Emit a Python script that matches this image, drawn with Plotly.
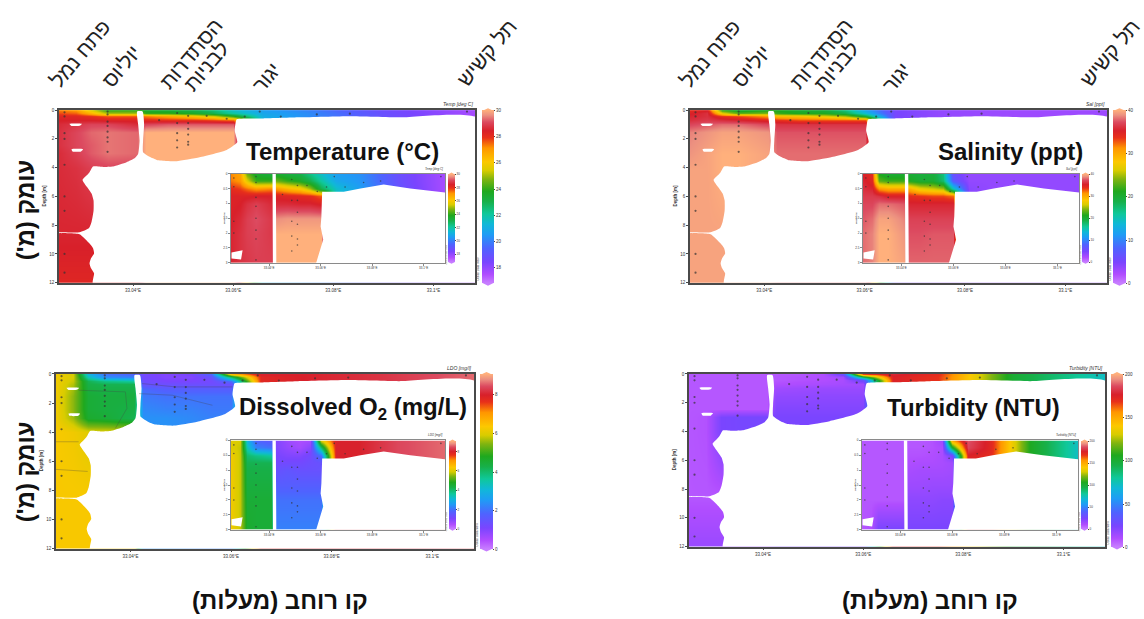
import plotly.graph_objects as go

W, H = 1144, 619
FONT = "Liberation Sans"

# ---------- shared grids ----------
lons = [33.0252, 33.0285, 33.0315, 33.035, 33.0408, 33.0425, 33.047, 33.052, 33.056, 33.06, 33.066, 33.075, 33.09, 33.1083]
main_depths = [0, 0.2, 0.45, 0.7, 1, 1.5, 2.4, 3, 4, 8.5, 12]
inset_depths = [0, 0.25, 0.5, 0.75, 1, 1.5, 2, 3]
lon_ticks = [33.04, 33.06, 33.08, 33.1]
lon_labels = ["33.04°E", "33.06°E", "33.08°E", "33.1°E"]

# ---------- sections (rows = depth, columns = longitude) ----------
temp_main = [
    [27.3, 27.0, 25.5, 24.0, 24.0, 23.5, 23.3, 23.0, 22.5, 21.5, 20.6, 20.0, 18.7, 17.6],
    [27.7, 27.5, 26.5, 25.0, 25.0, 24.0, 24.0, 23.6, 23.0, 22.0, 20.8, 20.2, 18.8, 17.6],
    [28.2, 28.2, 28.0, 27.6, 27.6, 27.3, 26.8, 26.2, 25.5, 24.0, 21.0, 20.2, 18.8, 17.6],
    [28.4, 28.4, 28.4, 28.3, 28.3, 28.1, 28.0, 28.0, 27.8, 27.5, 21.0, 20.2, 18.8, 17.6],
    [28.6, 28.8, 29.0, 29.0, 28.6, 29.0, 29.2, 29.2, 29.2, 29.2, 21.0, 20.2, 18.8, 17.6],
    [28.7, 29.0, 29.3, 29.4, 29.3, 30.0, 30.0, 30.0, 30.0, 30.0, 21.0, 20.2, 18.8, 17.6],
    [28.7, 29.0, 29.2, 29.4, 29.3, 30.0, 30.0, 30.0, 30.0, 30.0, 21.0, 20.2, 18.8, 17.6],
    [28.6, 28.9, 29.2, 29.4, 29.3, 30.0, 30.0, 30.0, 30.0, 30.0, 21.0, 20.2, 18.8, 17.6],
    [28.6, 28.7, 28.9, 29.0, 29.0, 30.0, 30.0, 30.0, 30.0, 30.0, 21.0, 20.2, 18.8, 17.6],
    [28.5, 28.5, 28.5, 28.5, 28.5, 30.0, 30.0, 30.0, 30.0, 30.0, 21.0, 20.2, 18.8, 17.6],
    [28.2, 28.2, 28.2, 28.2, 28.2, 30.0, 30.0, 30.0, 30.0, 30.0, 21.0, 20.2, 18.8, 17.6],
]
temp_inset = [
    [27.2, 26.8, 24.5, 23.5, 23.2, 23.5, 23.2, 23.0, 22.3, 21.5, 20.6, 20.3, 18.8, 17.6],
    [27.3, 27.0, 25.5, 24.0, 24.0, 24.5, 24.0, 23.6, 23.0, 22.0, 20.8, 20.4, 18.8, 17.6],
    [28.0, 27.8, 27.4, 27.0, 27.2, 27.0, 26.5, 26.0, 25.0, 23.0, 21.5, 20.6, 18.9, 17.6],
    [28.3, 28.3, 28.3, 28.4, 28.4, 28.3, 28.2, 28.1, 28.0, 27.5, 21.5, 20.6, 18.9, 17.6],
    [28.3, 28.4, 28.7, 28.9, 28.6, 28.6, 28.6, 28.5, 28.5, 28.3, 21.5, 20.6, 18.9, 17.6],
    [28.4, 28.6, 28.9, 29.1, 28.8, 29.6, 29.7, 29.7, 29.7, 29.7, 21.5, 20.6, 18.9, 17.6],
    [28.5, 28.7, 28.9, 29.0, 28.8, 30.0, 30.0, 30.0, 30.0, 30.0, 21.5, 20.6, 18.9, 17.6],
    [28.5, 28.7, 28.8, 28.9, 28.9, 30.0, 30.0, 30.0, 30.0, 30.0, 21.5, 20.6, 18.9, 17.6],
]
sal_main = [
    [34.0, 35.0, 22.0, 20.0, 21.0, 21.0, 20.0, 19.5, 17.0, 12.0, 5.0, 3.5, 3.0, 3.0],
    [35.0, 36.0, 27.0, 23.0, 24.0, 22.0, 21.0, 21.0, 19.0, 14.0, 5.0, 3.5, 3.0, 3.0],
    [35.5, 36.0, 34.0, 33.0, 31.0, 29.0, 28.5, 27.0, 25.0, 20.0, 5.0, 3.5, 3.0, 3.0],
    [36.0, 36.5, 36.0, 35.5, 34.5, 34.0, 33.0, 33.0, 33.0, 33.0, 5.0, 3.5, 3.0, 3.0],
    [37.0, 37.5, 38.0, 38.0, 37.0, 36.2, 36.2, 36.2, 36.2, 36.2, 5.0, 3.5, 3.0, 3.0],
    [38.5, 39.0, 39.5, 39.5, 39.0, 37.4, 37.4, 37.4, 37.4, 37.4, 5.0, 3.5, 3.0, 3.0],
    [38.8, 39.3, 39.8, 39.8, 39.3, 37.8, 37.8, 37.8, 37.8, 37.8, 5.0, 3.5, 3.0, 3.0],
    [39.0, 39.5, 40.0, 40.0, 39.5, 38.0, 38.0, 38.0, 38.0, 38.0, 5.0, 3.5, 3.0, 3.0],
    [39.5, 39.5, 40.0, 40.0, 39.5, 38.0, 38.0, 38.0, 38.0, 38.0, 5.0, 3.5, 3.0, 3.0],
    [39.5, 39.5, 39.5, 39.5, 39.5, 38.0, 38.0, 38.0, 38.0, 38.0, 5.0, 3.5, 3.0, 3.0],
    [39.5, 39.5, 39.5, 39.5, 39.5, 38.0, 38.0, 38.0, 38.0, 38.0, 5.0, 3.5, 3.0, 3.0],
]
sal_inset = [
    [35.0, 34.0, 21.0, 20.0, 20.0, 20.0, 19.5, 19.5, 17.0, 6.0, 3.5, 3.5, 3.5, 3.5],
    [35.5, 34.5, 23.0, 22.0, 22.0, 21.0, 20.0, 20.0, 17.5, 7.0, 3.5, 3.5, 3.5, 3.5],
    [36.0, 35.5, 31.0, 30.0, 30.0, 30.0, 27.0, 26.0, 25.0, 15.0, 4.0, 3.5, 3.5, 3.5],
    [36.5, 36.5, 36.0, 35.0, 35.0, 34.0, 33.5, 33.0, 33.0, 32.0, 4.0, 3.5, 3.5, 3.5],
    [37.0, 37.0, 38.0, 38.0, 37.5, 35.5, 35.5, 35.5, 35.5, 35.5, 4.0, 3.5, 3.5, 3.5],
    [37.5, 38.0, 39.5, 39.5, 38.5, 36.8, 36.8, 36.8, 36.8, 36.8, 4.0, 3.5, 3.5, 3.5],
    [38.0, 38.5, 40.0, 40.0, 39.0, 37.3, 37.3, 37.5, 37.5, 37.5, 4.0, 3.5, 3.5, 3.5],
    [38.0, 38.5, 40.0, 40.0, 39.5, 37.8, 37.8, 37.8, 37.8, 37.8, 4.0, 3.5, 3.5, 3.5],
]
do_main = [
    [6.2, 5.9, 3.0, 2.0, 1.8, 1.2, 1.0, 1.1, 1.8, 6.5, 8.0, 8.0, 8.2, 8.6],
    [6.2, 5.9, 3.4, 2.4, 2.2, 1.2, 1.0, 1.0, 1.4, 4.0, 7.8, 8.0, 8.2, 8.6],
    [6.2, 5.8, 4.2, 3.8, 3.6, 1.3, 1.1, 1.1, 1.2, 2.0, 7.8, 8.0, 8.2, 8.6],
    [6.2, 5.7, 4.3, 4.2, 4.2, 1.4, 1.3, 1.3, 1.3, 1.3, 7.8, 8.0, 8.2, 8.6],
    [6.2, 5.6, 4.4, 4.3, 4.3, 1.9, 1.7, 1.7, 1.7, 1.7, 7.8, 8.0, 8.2, 8.6],
    [6.2, 5.5, 4.5, 4.4, 4.4, 2.1, 2.0, 2.0, 2.0, 2.0, 7.8, 8.0, 8.2, 8.6],
    [6.2, 5.5, 4.5, 4.4, 4.3, 2.3, 2.2, 2.2, 2.1, 2.1, 7.8, 8.0, 8.2, 8.6],
    [6.2, 5.6, 4.6, 4.5, 4.2, 2.4, 2.4, 2.3, 2.2, 2.2, 7.8, 8.0, 8.2, 8.6],
    [6.3, 6.2, 6.0, 6.0, 6.0, 2.4, 2.4, 2.3, 2.2, 2.2, 7.8, 8.0, 8.2, 8.6],
    [6.3, 6.3, 6.3, 6.3, 6.3, 2.4, 2.4, 2.3, 2.2, 2.2, 7.8, 8.0, 8.2, 8.6],
    [6.3, 6.3, 6.3, 6.3, 6.3, 2.4, 2.4, 2.3, 2.2, 2.2, 7.8, 8.0, 8.2, 8.6],
]
do_inset = [
    [6.0, 5.9, 3.0, 1.8, 1.6, 1.0, 0.7, 0.5, 0.6, 6.0, 8.0, 8.0, 8.4, 8.6],
    [6.0, 5.8, 3.4, 2.2, 2.0, 1.0, 0.8, 0.6, 0.9, 4.0, 8.0, 8.0, 8.4, 8.6],
    [6.2, 5.8, 4.0, 3.8, 3.6, 1.1, 1.0, 1.0, 1.2, 2.0, 8.0, 8.0, 8.4, 8.6],
    [6.2, 5.8, 4.2, 4.2, 4.2, 1.2, 1.2, 1.2, 1.3, 1.4, 8.0, 8.0, 8.4, 8.6],
    [6.2, 5.8, 4.3, 4.3, 4.3, 1.4, 1.5, 1.4, 1.4, 1.4, 8.0, 8.0, 8.4, 8.6],
    [6.2, 5.8, 4.4, 4.4, 4.4, 1.7, 1.7, 1.7, 1.7, 1.7, 8.0, 8.0, 8.4, 8.6],
    [6.2, 5.8, 4.5, 4.5, 4.5, 2.0, 2.0, 2.0, 2.0, 2.0, 8.0, 8.0, 8.4, 8.6],
    [6.2, 5.8, 4.6, 4.5, 4.5, 2.2, 2.2, 2.2, 2.2, 2.2, 8.0, 8.0, 8.4, 8.6],
]
turb_main = [
    [8, 8, 8, 8, 8, 8, 8, 10, 30, 165, 178, 170, 100, 72],
    [8, 8, 8, 8, 8, 8, 9, 10, 14, 90, 175, 168, 100, 72],
    [8, 8, 8, 8, 8, 8, 9, 10, 12, 30, 175, 168, 100, 72],
    [8, 8, 8, 8, 8, 10, 11, 12, 13, 14, 175, 168, 100, 72],
    [8, 8, 8, 8, 8, 14, 15, 16, 16, 16, 175, 168, 100, 72],
    [8, 8, 8, 8, 8, 18, 18, 19, 19, 19, 175, 168, 100, 72],
    [8, 8, 8, 8, 8, 22, 22, 22, 22, 22, 175, 168, 100, 72],
    [8, 9, 24, 25, 25, 24, 24, 24, 24, 24, 175, 168, 100, 72],
    [8, 9, 24, 25, 25, 24, 24, 24, 24, 24, 175, 168, 100, 72],
    [8, 8, 8, 8, 8, 24, 24, 24, 24, 24, 175, 168, 100, 72],
    [16, 16, 16, 16, 16, 24, 24, 24, 24, 24, 175, 168, 100, 72],
]
turb_inset = [
    [8, 8, 8, 8, 8, 8, 8, 9, 15, 150, 187, 172, 105, 72],
    [8, 8, 8, 8, 8, 8, 8, 9, 11, 100, 185, 172, 105, 72],
    [8, 8, 8, 8, 8, 9, 9, 10, 12, 25, 175, 170, 105, 72],
    [8, 8, 8, 8, 8, 10, 11, 11, 12, 14, 175, 170, 105, 72],
    [8, 8, 8, 8, 8, 12, 13, 13, 13, 14, 175, 170, 105, 72],
    [8, 8, 8, 8, 8, 15, 15, 16, 16, 16, 175, 170, 105, 72],
    [8, 8, 8, 8, 8, 19, 19, 19, 20, 20, 175, 170, 105, 72],
    [8, 10, 24, 24, 24, 24, 24, 24, 24, 24, 175, 170, 105, 72],
]

# ---------- sampling stations ----------
station_lons = [33.0263] * 9 + [33.0349] * 8 + [33.0488] * 5 + [33.051] * 6 + [
    33.0452, 33.0547, 33.0587, 33.0623, 33.0653, 33.0695, 33.0767, 33.0833, 33.1067]
station_depths = [0.15, 0.44, 1.6, 2, 3.8, 6, 7, 10, 11.3,
                  0.1, 0.3, 0.8, 1.1, 1.5, 1.9, 2.2, 2.9,
                  0.2, 0.9, 1.6, 2.1, 2.6,
                  0.4, 0.9, 1.3, 1.7, 2.2, 2.4,
                  0.7, 0.4, 0.6, 0.45, 0.1, 0.45, 0.3, 0.25, 0.1]

# ---------- thin isolines on the dissolved oxygen section ----------
do_iso_lon = [33.0248, 33.0297, None, 33.0248, 33.0315, None,
              33.0297, 33.039, 33.0393, 33.037, None,
              33.0423, 33.049, 33.0603, None, 33.0417, 33.0483, 33.0563]
do_iso_depth = [4.66, 4.66, None, 6.55, 6.7, None,
                1.12, 1.23, 2.37, 3.74, None,
                0.66, 0.89, 0.89, None, 1.35, 1.46, 2.15]

# ---------- outline of the gridded section (blank areas) ----------
main_blank_lon = [33.032, 33.0322, 33.0316, 33.0313, 33.0316, 33.0322, 33.032, 33.0313, 33.0293, 33.0252, 33.0252, 33.0293, 33.0312, 33.0317,
                  33.0321, 33.0321, 33.0317, 33.0308, 33.0299, 33.0307, 33.0313, 33.032, 33.034, 33.036, 33.0387, 33.0403, 33.041,
                  33.0413, 33.041, 33.0408, 33.0419, 33.0422, 33.042, 33.042, 33.0433, 33.0447, 33.0467, 33.0487, 33.0533, 33.0587,
                  33.0608, 33.0603, 33.0605, 33.0607, 33.066, 33.0733, 33.0833,
                  33.0933, 33.109, 33.109, 33.032, None,
                  33.0273, 33.0298, 33.0294, 33.0276, 33.0273, None,
                  33.0277, 33.03, 33.0296, 33.0279, 33.0277]
main_blank_depth = [12.1, 11.35, 11.0, 10.66, 10.3, 9.97, 9.6, 9.28, 8.63, 8.54, 8.5, 8.5, 8.2, 7.78,
                    7.0, 6.28, 5.8, 5.35, 4.85, 4.55, 4.32, 3.92, 3.95, 3.92, 3.62, 3.35, 3.05,
                    2.12, 0.97, 0.09, 0.09, 0.97, 2.12, 2.93, 3.25, 3.46, 3.53, 3.55, 3.28, 2.77,
                    2.24, 1.43, 0.85, 0.64, 0.58, 0.5, 0.42,
                    0.5, 0.58, 12.1, 12.1, None,
                    0.95, 0.95, 1.08, 1.08, 0.95, None,
                    2.72, 2.72, 2.88, 2.88, 2.72]
inset_blank_lon = [33.0413, 33.0426, 33.0428, 33.0415, 33.0413, None,
                   33.0581, 33.061, 33.06, 33.0603, 33.0606, 33.0652, 33.069, 33.0755, 33.0845, 33.0948, 33.109, 33.109,
                   33.0581, None,
                   33.0254, 33.0297, 33.0291, 33.0254, 33.0254]
inset_blank_depth = [-0.05, -0.05, 3.05, 3.05, -0.05, None,
                     3.05, 2.22, 1.78, 1.44, 0.61, 0.61, 0.61, 0.5, 0.37, 0.5, 0.64, 3.05,
                     3.05, None,
                     2.65, 2.58, 2.89, 2.85, 2.65]

# ---------- panel definitions (pixel boxes: left, right, top, bottom) ----------
rainbow = [
    [0.00, "#c77dff"], [0.05, "#b04dff"], [0.12, "#7a45ff"], [0.20, "#4f63ff"], [0.28, "#1f9cf5"],
    [0.34, "#10b8d8"], [0.40, "#0fc89a"], [0.47, "#17b04a"], [0.53, "#1fa81e"], [0.60, "#80b410"],
    [0.65, "#d8cc00"], [0.70, "#fcc800"], [0.78, "#ff9600"], [0.84, "#e8301a"], [0.88, "#d8202a"],
    [0.93, "#dc4a60"], [0.97, "#ec9080"], [1.00, "#ffb07c"],
]
panels = [
    dict(main=temp_main, inset=temp_inset, zmin=16.8, zmax=30, ticks=[18, 20, 22, 24, 26, 28, 30],
         box=(59, 475, 109, 283), ibox=(231, 445, 173, 263), bar=(482, 494, 110, 283), ibar=(448, 455, 174, 262),
         name="Temp [deg C]", title="Temperature (°C)", tx=342, ty=151, itick=[18, 20, 22, 24, 26, 28, 30]),
    dict(main=sal_main, inset=sal_inset, zmin=0, zmax=40, ticks=[0, 10, 20, 30, 40],
         box=(690, 1107, 109, 283), ibox=(863, 1079, 173, 263), bar=(1113, 1126, 110, 283), ibar=(1082, 1089, 174, 262),
         name="Sal [ppt]", title="Salinity (ppt)", tx=1010, ty=151, itick=[0, 10, 20, 30, 40]),
    dict(main=do_main, inset=do_inset, zmin=0, zmax=9.07, ticks=[0, 2, 4, 6, 8],
         box=(56, 474, 375, 551), ibox=(231, 445, 442, 532), bar=(480, 493, 376, 551), ibar=(449, 456, 443, 531),
         name="LDO [mg/l]", title="Dissolved O<sub>2</sub> (mg/L)", tx=353, ty=410, itick=[0, 2, 4, 6, 8],
         iso=(do_iso_lon, do_iso_depth)),
    dict(main=turb_main, inset=turb_inset, zmin=0, zmax=200, ticks=[0, 50, 100, 150, 200],
         box=(689, 1105, 375, 549), ibox=(862, 1078, 442, 532), bar=(1111, 1123, 376, 549), ibar=(1081, 1088, 443, 531),
         name="Turbidity [NTU]", title="Turbidity (NTU)", tx=973, ty=409, itick=[0, 50, 100, 150, 200]),
]

site_names = ["פתח נמל", "יוליוס", "הסתדרות", "לבניות", "יגור", "תל קשיש"]
site_px_left = [(80, 52), (121, 65), (191, 52), (206, 65), (266, 76), (487, 51)]
site_px_right = [(710, 52), (751, 65), (821, 52), (836, 65), (896, 76), (1110, 51)]
depth_title = "עומק (מ')"
lat_title = "קו רוחב (מעלות)"


def fx(px):
    return px / W


def fy(py):
    return 1 - py / H


def note(px, py, text, size, color="#222", angle=0, xanchor="center", yanchor="middle"):
    return dict(xref="paper", yref="paper", x=fx(px), y=fy(py), text=text, textangle=angle, showarrow=False,
                xanchor=xanchor, yanchor=yanchor, font=dict(size=size, color=color, family=FONT))


fig = go.Figure()
layout = dict(width=W, height=H, margin=dict(l=0, r=0, t=0, b=0), paper_bgcolor="white", plot_bgcolor="white",
              showlegend=False, font=dict(family=FONT, color="#222"))
annotations, shapes = [], []
axis_no = 0


def add_section(z, depths, blank_lon, blank_depth, box, bar, zmin, zmax, ticks, is_inset, name, iso=None):
    global axis_no
    axis_no += 1
    xa, ya = f"xaxis{axis_no}", f"yaxis{axis_no}"
    xr, yr = f"x{axis_no}", f"y{axis_no}"
    left, right, top, bottom = box
    bl, br, bt, bb = bar
    line = "#8a8a8a" if is_inset else "#4a4a4a"
    tick_size = 3 if is_inset else 4.5
    layout[xa] = dict(domain=[fx(left), fx(right)], range=[lons[0], lons[-1]], anchor=yr,
                      tickvals=lon_ticks, ticktext=lon_labels, ticks="outside", ticklen=2, tickcolor=line,
                      tickfont=dict(size=tick_size, color="#333"), showgrid=False, zeroline=False, mirror=True,
                      showline=True, linecolor=line, linewidth=1 if is_inset else 1.5, layer="above traces")
    ymax = depths[-1]
    yticks = [0, 0.5, 1, 1.5, 2, 2.5, 3] if is_inset else [0, 2, 4, 6, 8, 10, 12]
    layout[ya] = dict(domain=[fy(bottom), fy(top)], range=[ymax, 0], anchor=xr,
                      tickvals=yticks, ticks="outside", ticklen=2, tickcolor=line,
                      tickfont=dict(size=tick_size, color="#333"), showgrid=False, zeroline=False, mirror=True,
                      showline=True, linecolor=line, linewidth=1 if is_inset else 1.5, layer="above traces")
    fig.add_trace(go.Heatmap(
        x=lons, y=depths, z=z, zmin=zmin, zmax=zmax, zsmooth="best", colorscale=rainbow, hoverinfo="skip",
        xaxis=xr, yaxis=yr,
        colorbar=dict(x=fx(bl), xanchor="left", xpad=0, y=fy((bt + bb) / 2), yanchor="middle", ypad=0,
                      lenmode="pixels", len=bb - bt, thicknessmode="pixels", thickness=br - bl,
                      outlinewidth=0, ticks="outside", ticklen=1.5, tickcolor="#444", tickvals=ticks,
                      tickfont=dict(size=3 if is_inset else 4.5, color="#333"))))
    outline = dict(width=0, color="white", shape="linear") if is_inset else \
        dict(width=0, color="white", shape="spline", smoothing=0.5)
    fig.add_trace(go.Scatter(x=blank_lon, y=blank_depth, mode="lines", fill="toself", fillcolor="white",
                             line=outline, hoverinfo="skip", xaxis=xr, yaxis=yr))
    if iso:
        fig.add_trace(go.Scatter(x=iso[0], y=iso[1], mode="lines", line=dict(width=0.6, color="#444444"), opacity=0.5,
                                 hoverinfo="skip", xaxis=xr, yaxis=yr))
    keep = [(a, b) for a, b in zip(station_lons, station_depths) if b <= ymax]
    fig.add_trace(go.Scatter(x=[k[0] for k in keep], y=[k[1] for k in keep], mode="markers",
                             marker=dict(size=1.6 if is_inset else 2.2, color="#333333", opacity=0.7),
                             hoverinfo="skip", xaxis=xr, yaxis=yr))
    # colour-bar end caps
    mid = (bl + br) / 2
    cap = 2 if is_inset else 3
    for y_edge, y_tip, colour in ((bt, bt - cap, rainbow[-1][1]), (bb, bb + cap, rainbow[0][1])):
        shapes.append(dict(type="path", xref="paper", yref="paper", fillcolor=colour, line=dict(width=0),
                           path=f"M {fx(bl)} {fy(y_edge)} L {fx(mid)} {fy(y_tip)} L {fx(br)} {fy(y_edge)} Z"))
    # small labels
    small = 3 if is_inset else 5
    annotations.append(note(right, top - 1, f"<i>{name}</i>", small, "#333", xanchor="right", yanchor="bottom"))
    annotations.append(note(left - (7 if is_inset else 15), (top + bottom) / 2, "<b>Depth [m]</b>", small - 0.5, "#333", angle=-90))
    annotations.append(note(right + (1.5 if is_inset else 3), bottom - (8 if is_inset else 14), "Ocean Data View",
                            2.5 if is_inset else 3, "#555", angle=-90))


for p in panels:
    add_section(p["main"], main_depths, main_blank_lon, main_blank_depth, p["box"], p["bar"],
                p["zmin"], p["zmax"], p["ticks"], False, p["name"], iso=p.get("iso"))
    add_section(p["inset"], inset_depths, inset_blank_lon, inset_blank_depth, p["ibox"], p["ibar"],
                p["zmin"], p["zmax"], p["itick"], True, p["name"])
    annotations.append(note(p["tx"], p["ty"], f"<b>{p['title']}</b>", 24, "#111"))

for name, (px, py) in zip(site_names, site_px_left):
    annotations.append(note(px, py, name, 21, "#222", angle=-50))
for name, (px, py) in zip(site_names, site_px_right):
    annotations.append(note(px, py, name, 21, "#222", angle=-50))
for py in (210, 474):
    annotations.append(note(25, py, f"<b>{depth_title}</b>", 24, "#111", angle=-90))
for px in (280, 930):
    annotations.append(note(px, 603, f"<b>{lat_title}</b>", 24, "#111"))

layout["annotations"] = annotations
layout["shapes"] = shapes
fig.update_layout(**layout)
fig.write_html("out.html", post_script="document.body.style.margin='0';document.documentElement.style.overflow='hidden';",
               config=dict(displayModeBar=False))
